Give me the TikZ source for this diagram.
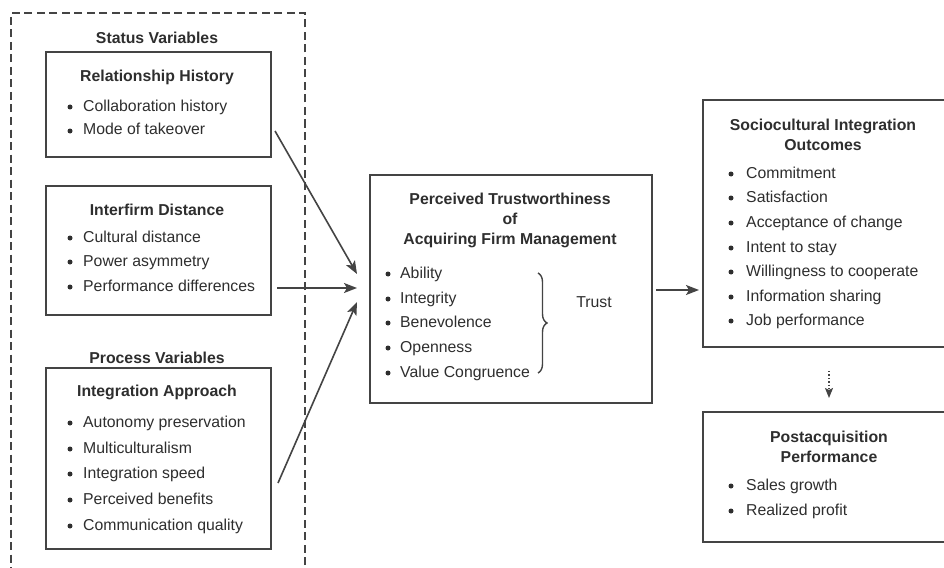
\documentclass[tikz,border=0pt]{standalone}
\usepackage{fontspec}
\setmainfont{Liberation Sans}
\usetikzlibrary{arrows.meta,decorations.pathreplacing}
\definecolor{txt}{HTML}{2E2E2E}
\definecolor{ln}{HTML}{444444}
\begin{document}
\begin{tikzpicture}[x=1pt,y=-1pt,
  box/.style={draw=ln,line width=2pt,inner sep=0pt,anchor=north west},
  ttl/.style={font=\fontsize{15.8}{18.5}\selectfont\bfseries,text=txt,align=center,inner sep=0pt},
  itm/.style={font=\fontsize{15.8}{18}\selectfont,text=txt,anchor=west,inner sep=0pt,text height=11.5pt,text depth=3.5pt},
  bul/.style={circle,fill=txt,inner sep=0pt,minimum size=5pt},
  trs/.style={font=\fontsize{15.8}{18}\selectfont,text=txt,inner sep=0pt},
  arr/.style={draw=ln,line width=1.6pt,-{Stealth[length=13pt,width=10pt,inset=3pt]}}]
\useasboundingbox (0,0) rectangle (944,567);
\clip (0,0) rectangle (944,567);
\fill[white] (0,0) rectangle (944,567);
% dashed frame
\draw[ln,line width=1.3pt,dash pattern=on 8pt off 4.5pt] (305,590) -- (305,13) -- (11,13) -- (11,590);
% boxes
\node[box,minimum width=225pt,minimum height=105pt] (rh) at (45,51) {};
\node[box,minimum width=225pt,minimum height=129pt] (id) at (45,185) {};
\node[box,minimum width=225pt,minimum height=181pt] (ia) at (45,367) {};
\node[box,minimum width=282pt,minimum height=228pt] (pt) at (369,174) {};
\node[box,minimum width=260pt,minimum height=247pt] (so) at (702,99) {};
\node[box,minimum width=260pt,minimum height=130pt] (pa) at (702,411) {};
% left labels
\node[ttl] (sv) at (157,38) {Status Variables};
\node[ttl] (pv) at (157,358) {Process Variables};
\node[ttl] (rht) at (157,77) {Relationship History};
\node[ttl] (idt) at (157,210) {Interfirm Distance};
\node[ttl] (iat) at (157,392) {Integration Approach};
% items left
\foreach \y/\t [count=\i] in {107/Collaboration history,131/Mode of takeover}{
  \node[bul] (rb\i) at (70,\y) {}; \node[itm] (ri\i) at (83,\y) {\t};}
\foreach \y/\t [count=\i] in {238/Cultural distance,262/Power asymmetry,287/Performance differences}{
  \node[bul] (db\i) at (70,\y) {}; \node[itm] (di\i) at (83,\y) {\t};}
\foreach \y/\t [count=\i] in {423/Autonomy preservation,449/Multiculturalism,474/Integration speed,500/Perceived benefits,526/Communication quality}{
  \node[bul] (ab\i) at (70,\y) {}; \node[itm] (ai\i) at (83,\y) {\t};}
% central
\node[ttl] (ptt) at (510,220) {Perceived Trustworthiness\\[1.5pt]of\\[1.5pt]Acquiring Firm Management};
\foreach \y/\t [count=\i] in {274/Ability,299/Integrity,323/Benevolence,348/Openness,373/Value Congruence}{
  \node[bul] (cb\i) at (388,\y) {}; \node[itm] (ci\i) at (400,\y) {\t};}
\coordinate (bt) at (538,273);
\coordinate (bb) at (538,373);
\draw[ln,line width=1.4pt,decorate,decoration={brace,amplitude=9pt,aspect=0.5}] (bt) -- (bb);
\node[trs] (trust) at (594,302) {Trust};
% right
\node[ttl] (sot) at (823,135) {Sociocultural Integration\\[1pt]Outcomes};
\foreach \y/\t [count=\i] in {174/Commitment,198/Satisfaction,223/Acceptance of change,248/Intent to stay,272/Willingness to cooperate,297/Information sharing,321/Job performance}{
  \node[bul] (sb\i) at (731,\y) {}; \node[itm] (si\i) at (746,\y) {\t};}
\node[ttl] (pat) at (829,447) {Postacquisition\\[1pt]Performance};
\foreach \y/\t [count=\i] in {486/Sales growth,511/Realized profit}{
  \node[bul] (pb\i) at (731,\y) {}; \node[itm] (pi\i) at (746,\y) {\t};}
% arrows
\coordinate (a1s) at (275,131);
\coordinate (a1e) at (357,274);
\coordinate (a2s) at (277,288);
\coordinate (a2e) at (357,288);
\coordinate (a3s) at (278,483);
\coordinate (a3e) at (357,302);
\draw[arr] (a1s) -- (a1e);
\draw[arr] (a2s) -- (a2e);
\draw[arr] (a3s) -- (a3e);
\coordinate (a4s) at (656,290);
\coordinate (a4e) at (699,290);
\draw[arr] (a4s) -- (a4e);
\coordinate (a5s) at (829,371);
\coordinate (a5e) at (829,398);
\draw[draw=ln,line width=1.4pt,dotted,-{Stealth[length=10pt,width=8pt,inset=2pt,line cap=butt,sep=0pt]}] (a5s) -- (a5e);
\end{tikzpicture}
\end{document}
